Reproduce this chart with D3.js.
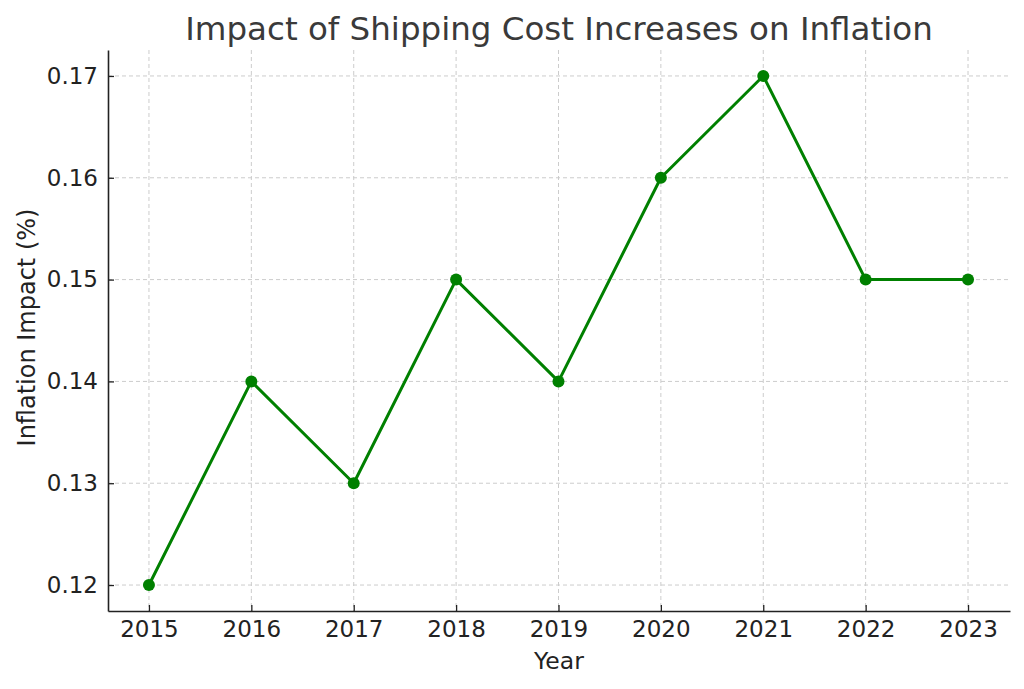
<!DOCTYPE html>
<html><head><meta charset="utf-8">
<script src="https://cdn.jsdelivr.net/npm/d3@7"></script>
<style>body{margin:0;background:#fff;} text{font-family:"DejaVu Sans",sans-serif;}</style>
</head><body>
<svg id="c" width="1024" height="689"></svg>
<script>
const years = [2015, 2016, 2017, 2018, 2019, 2020, 2021, 2022, 2023];
const impact = [0.12, 0.14, 0.13, 0.15, 0.14, 0.16, 0.17, 0.15, 0.15];
const yTicks = [0.12, 0.13, 0.14, 0.15, 0.16, 0.17];

const svg = d3.select("#c");
const L = 108, R = 1010, T = 50, B = 611;
const x = d3.scaleLinear().domain([2014.6, 2023.41]).range([L, R]);
const y = d3.scaleLinear().domain([0.11745, 0.17255]).range([B, T]);

// grid
const g = svg.append("g");
g.selectAll(".vg").data(years).join("line")
  .attr("x1", d => x(d)).attr("x2", d => x(d)).attr("y1", T).attr("y2", B)
  .attr("stroke", "#cccccc").attr("stroke-width", 1).attr("stroke-dasharray", "4,3");
g.selectAll(".hg").data(yTicks).join("line")
  .attr("x1", L).attr("x2", R).attr("y1", d => y(d)).attr("y2", d => y(d))
  .attr("stroke", "#cccccc").attr("stroke-width", 1).attr("stroke-dasharray", "4,3");

// axes
const xAxis = d3.axisBottom(x).tickValues(years).tickFormat(d3.format("d")).tickSizeInner(-6).tickSizeOuter(0).tickPadding(10);
const yAxis = d3.axisLeft(y).tickValues(yTicks).tickFormat(d3.format(".2f")).tickSizeInner(-6).tickSizeOuter(0).tickPadding(10);
const xa = svg.append("g").attr("transform", `translate(0,${B})`).call(xAxis);
const ya = svg.append("g").attr("transform", `translate(${L},0)`).call(yAxis);
[xa, ya].forEach(a => {
  a.attr("font-size", null).attr("font-family", null);
  a.select(".domain").attr("stroke", "#222").attr("stroke-width", 1.6);
  a.selectAll(".tick line").attr("stroke", "#222").attr("stroke-width", 1.3);
  a.selectAll(".tick text").attr("fill", "#222").style("font-size", "23px").style("font-family", "DejaVu Sans");
});
xa.selectAll(".tick text").attr("dy", "0.71em");

// line
const line = d3.line().x((d, i) => x(years[i])).y(d => y(d));
svg.append("path").datum(impact).attr("d", line)
  .attr("fill", "none").attr("stroke", "#008000").attr("stroke-width", 3).attr("stroke-linejoin", "round");
svg.selectAll(".pt").data(impact).join("circle")
  .attr("cx", (d, i) => x(years[i])).attr("cy", d => y(d)).attr("r", 6).attr("fill", "#008000");

// labels
svg.append("text").attr("x", (L + R) / 2).attr("y", 40).attr("text-anchor", "middle")
  .attr("fill", "#3a3a3a").style("font-size", "32.5px").text("Impact of Shipping Cost Increases on Inflation");
svg.append("text").attr("x", (L + R) / 2).attr("y", 669).attr("text-anchor", "middle")
  .attr("fill", "#222").style("font-size", "23.5px").text("Year");
svg.append("text").attr("transform", `translate(35,${(T + B) / 2 - 3}) rotate(-90)`).attr("text-anchor", "middle")
  .attr("fill", "#222").style("font-size", "24px").text("Inflation Impact (%)");
</script>
</body></html>
